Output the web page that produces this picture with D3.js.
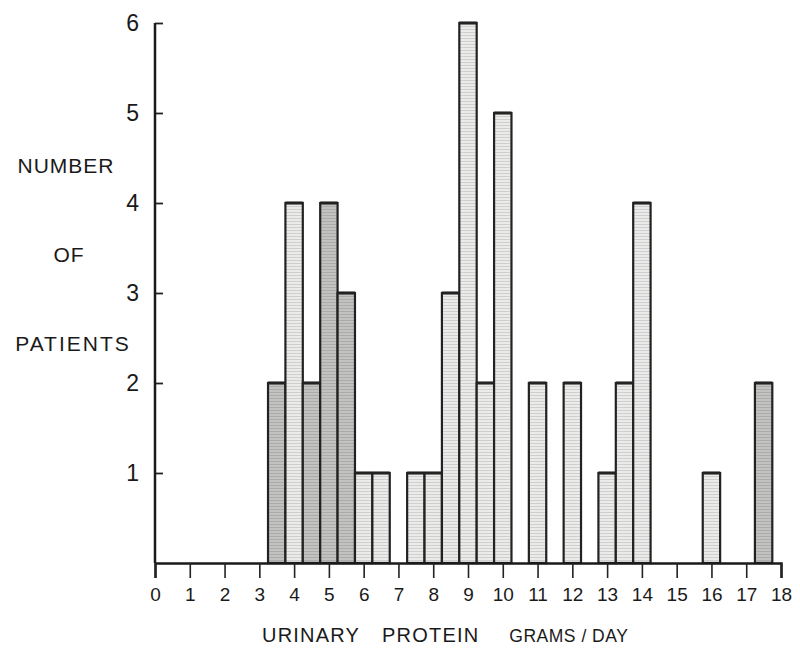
<!DOCTYPE html>
<html>
<head>
<meta charset="utf-8">
<script src="https://cdn.jsdelivr.net/npm/d3@7"></script>
<style>
  body { margin: 0; background: #fff; }
  text { font-family: "Liberation Sans", Arial, sans-serif; fill: #1a1a1a; }
</style>
</head>
<body>
<div id="chart"></div>
<script>
// bar centres (grams/day) and patient counts
const proteinBins = [3.5, 4, 4.5, 5, 5.5, 6, 6.5, 7.5, 8, 8.5, 9, 9.5, 10, 11, 12, 13, 13.5, 14, 16, 17.5];
const patientCounts = [2, 4, 2, 4, 3, 1, 1, 1, 1, 3, 6, 2, 5, 2, 2, 1, 2, 4, 1, 2];
const xTickLabels = d3.range(0, 19);
const yTickLabels = [1, 2, 3, 4, 5, 6];
const yLabelLines = ["NUMBER", "OF", "PATIENTS"];

const width = 800;
const height = 660;
const margin = { top: 23, right: 19, bottom: 97, left: 155 };

const svg = d3.select("#chart")
  .append("svg")
  .attr("width", width)
  .attr("height", height);

// faint horizontal streaks, like the scanned print
const defs = svg.append("defs");
const shades = { light: "#ebebea", dark: "#c2c2c0" };
Object.entries(shades).forEach(([name, col]) => {
  const p = defs.append("pattern")
    .attr("id", "fill-" + name)
    .attr("patternUnits", "userSpaceOnUse")
    .attr("width", 8)
    .attr("height", 3);
  p.append("rect").attr("width", 8).attr("height", 3).attr("fill", col);
  p.append("rect").attr("y", 2).attr("width", 8).attr("height", 1)
    .attr("fill", d3.color(col).darker(0.35));
});

const x = d3.scaleLinear()
  .domain([0, 18])
  .range([margin.left, width - margin.right]);

const y = d3.scaleLinear()
  .domain([0, 6])
  .range([height - margin.bottom, margin.top]);

const data = proteinBins.map((b, i) => ({ bin: b, count: patientCounts[i] }));
const darker = new Set([3.5, 4.5, 5, 5.5, 17.5]);

// bars, half a gram wide, centred on their bin
svg.append("g")
  .selectAll("rect")
  .data(data)
  .join("rect")
  .attr("x", d => x(d.bin - 0.25))
  .attr("y", d => y(d.count))
  .attr("width", d => x(d.bin + 0.25) - x(d.bin - 0.25))
  .attr("height", d => y(0) - y(d.count))
  .attr("fill", d => darker.has(d.bin) ? "url(#fill-dark)" : "url(#fill-light)")
  .attr("stroke", "#222")
  .attr("stroke-width", 2.2);

// thicker tops
svg.append("g")
  .selectAll("line")
  .data(data)
  .join("line")
  .attr("x1", d => x(d.bin - 0.25))
  .attr("x2", d => x(d.bin + 0.25))
  .attr("y1", d => y(d.count))
  .attr("y2", d => y(d.count))
  .attr("stroke", "#222")
  .attr("stroke-width", 3);

// x axis: major ticks on whole grams, minor on halves
const xAxis = svg.append("g")
  .attr("transform", `translate(0, ${y(0)})`);

xAxis.call(
  d3.axisBottom(x)
    .tickValues(d3.range(0.5, 18, 1))
    .tickSize(8)
    .tickFormat("")
);
xAxis.call(
  d3.axisBottom(x)
    .tickValues(xTickLabels)
    .tickSize(15)
    .tickPadding(10)
    .tickFormat(d3.format("d"))
);
xAxis.selectAll("path.domain").attr("stroke", "#1a1a1a").attr("stroke-width", 2.5);
xAxis.selectAll(".tick line").attr("stroke", "#222").attr("stroke-width", 1.6);
xAxis.selectAll(".tick text")
  .style("font-size", "19px")
  .attr("fill", "#1a1a1a");

// y axis, ticks pointing into the plot
const yAxis = svg.append("g")
  .attr("transform", `translate(${x(0)}, 0)`)
  .call(
    d3.axisRight(y)
      .tickValues(yTickLabels)
      .tickSize(8)
      .tickFormat("")
  );
yAxis.select("path.domain").remove();
yAxis.append("line")
  .attr("y1", y(0))
  .attr("y2", y(6))
  .attr("stroke", "#1a1a1a")
  .attr("stroke-width", 2.5);
yAxis.selectAll(".tick line").attr("stroke", "#222").attr("stroke-width", 1.8);

svg.append("g")
  .selectAll("text")
  .data(yTickLabels)
  .join("text")
  .attr("x", x(0) - 16)
  .attr("y", d => y(d))
  .attr("dy", "0.36em")
  .attr("text-anchor", "end")
  .style("font-size", "23px")
  .text(d => d);

// y title, three stacked words
const titleX = [66, 69, 73];
svg.append("g")
  .selectAll("text")
  .data(yLabelLines)
  .join("text")
  .attr("x", (d, i) => titleX[i])
  .attr("y", (d, i) => 173 + i * 89)
  .attr("text-anchor", "middle")
  .style("font-size", "21px")
  .style("letter-spacing", (d, i) => i === 2 ? "2px" : "1px")
  .text(d => d);

// x title
const xTitle = svg.append("text")
  .attr("x", 262)
  .attr("y", 642)
  .style("font-size", "20px")
  .style("letter-spacing", "1.2px");
xTitle.append("tspan").text("URINARY");
xTitle.append("tspan").attr("dx", 22).text("PROTEIN");
xTitle.append("tspan")
  .attr("dx", 30)
  .style("font-size", "17.5px")
  .style("letter-spacing", "0.5px")
  .text("GRAMS / DAY");
</script>
</body>
</html>
